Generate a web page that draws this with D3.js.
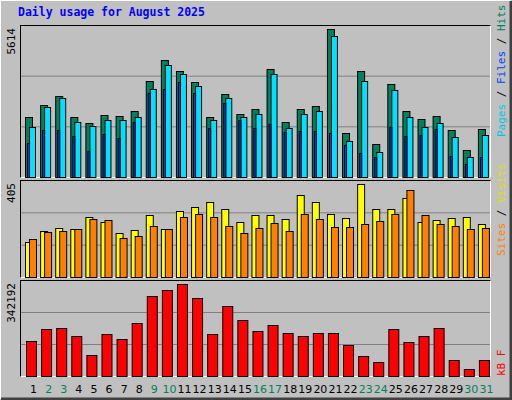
<!DOCTYPE html>
<html><head><meta charset="utf-8">
<script src="https://cdn.jsdelivr.net/npm/d3@7"></script>
<style>body{margin:0;background:#fff}</style></head>
<body><svg id="c" width="512" height="400"></svg>
<script>
const days = d3.range(1,32);
const weekendDays = [2,3,9,10,16,17,23,24,30,31];
const hits  = [2261,2718,3061,2261,2032,2337,2299,2489,3633,4433,4014,3595,2261,3137,2375,2566,4090,2070,2566,2680,5614,1651,4014,1270,3518,2489,2185,2299,1765,1042,1804];
const files = [1880,2642,2985,2070,1918,2147,2147,2261,3328,4242,3899,3442,2147,2985,2261,2375,3899,1842,2375,2489,5347,1384,3633,965,3290,2261,1880,2032,1499,775,1575];
const pages = [1308,1778,1778,1550,978,1613,1461,2070,3175,3328,3595,3175,1842,2794,2147,1842,1994,1689,1727,1727,1651,1232,927,775,1880,1537,1575,1804,813,508,775];
const visits= [154,202,215,211,263,241,193,206,272,211,289,303,325,298,241,268,268,254,355,325,276,259,405,294,298,342,241,250,259,263,232];
const sites = [167,197,202,211,254,250,171,180,224,211,263,276,263,224,193,215,237,202,276,254,219,219,232,246,276,377,268,232,224,211,215];
const kbytes= [128600,173600,177300,147400,79900,154900,136100,196100,297200,319700,342192,289700,154900,259800,207300,166100,188600,158600,147400,158600,158600,113600,76200,53700,173600,124900,147400,177300,61200,27500,61200];
const maxLabels = ["5614","405","342192"];

const svg = d3.select("#c");
const F = "'DejaVu Sans Mono', monospace";
// background & bevel
svg.append("rect").attr("width",512).attr("height",400).attr("fill","#c0c0c0");
svg.append("path").attr("d","M0,399V0H511").attr("stroke","#fff").attr("stroke-width",2).attr("fill","none");
svg.append("path").attr("d","M1,399H511V1").attr("stroke","#404040").attr("stroke-width",3).attr("fill","none");
svg.append("text").attr("x",18).attr("y",16).attr("font-family",F).attr("font-weight","bold").attr("font-size",11.5).attr("fill","#0000ff").text("Daily usage for August 2025");

const x = d3.scaleBand().domain(days).range([23,491]).paddingInner(0);
const step = x.step();
const panels = [
 {top:25,bot:177,max:5614},
 {top:180,bot:277,max:405},
 {top:280,bot:376,max:342192}
];
panels.forEach((p,i)=>{
  svg.append("rect").attr("x",20.5).attr("y",p.top+.5).attr("width",470).attr("height",p.bot-p.top).attr("fill","none").attr("stroke","#000");
  svg.append("path").attr("d",`M${20.5},${p.bot+.5}H490.5V${p.top+.5}`).attr("stroke","#fff").attr("fill","none");
  const h=p.bot-p.top;
  [1,2].forEach(k=>svg.append("line").attr("x1",21).attr("x2",490).attr("y1",p.bot-h*k/3+.5).attr("y2",p.bot-h*k/3+.5).attr("stroke","#808080"));
  p.y = d3.scaleLinear().domain([0,p.max]).range([p.bot,p.top+4]);
  svg.append("text").attr("transform",`translate(15,${p.top+3}) rotate(-90)`).attr("text-anchor","end")
    .attr("font-family",F).attr("font-size",11).attr("fill","#000").text(maxLabels[i]);
});
function bars(data,p,dx,w,fill){
  svg.append("g").selectAll("rect").data(data).join("rect")
   .attr("x",(d,i)=>x(days[i])+dx+.5).attr("y",d=>Math.round(p.y(d))+.5)
   .attr("width",w).attr("height",d=>p.bot-Math.round(p.y(d)))
   .attr("fill",fill).attr("stroke","#000");
}
const P=panels;
bars(hits,P[0],2,7,"#00805c");
bars(files,P[0],6,6,"#00e0ff");
bars(pages,P[0],4,2,"#0040ff");
bars(visits,P[1],2,7,"#ffff00");
bars(sites,P[1],6,7,"#ff8000");
bars(kbytes,P[2],3,10,"#ff0000");

// day labels
svg.append("g").selectAll("text").data(days).join("text")
 .attr("x",d=>x(d)+step/2+3).attr("y",393).attr("text-anchor","middle")
 .attr("font-family","'DejaVu Sans', sans-serif").attr("font-size",11)
 .attr("fill",d=>weekendDays.includes(d)?"#00805c":"#000").text(d=>d);

// right side legends (rotated)
function legend(yBottom, parts){
  const t=svg.append("text").attr("transform",`translate(505,${yBottom}) rotate(-90)`).attr("font-family",F).attr("font-size",11);
  parts.forEach(([s,c])=>t.append("tspan").attr("fill",c).text(s));
}
legend(137,[["Pages","#00c8e0"],[" / ","#000"],["Files","#0040ff"],[" / ","#000"],["Hits","#00805c"]]);
legend(256,[["Sites","#ff8000"],[" / ","#000"],["Visits","#e0e000"]]);
legend(376,[["kB F","#ff0000"]]);
</script></body></html>
